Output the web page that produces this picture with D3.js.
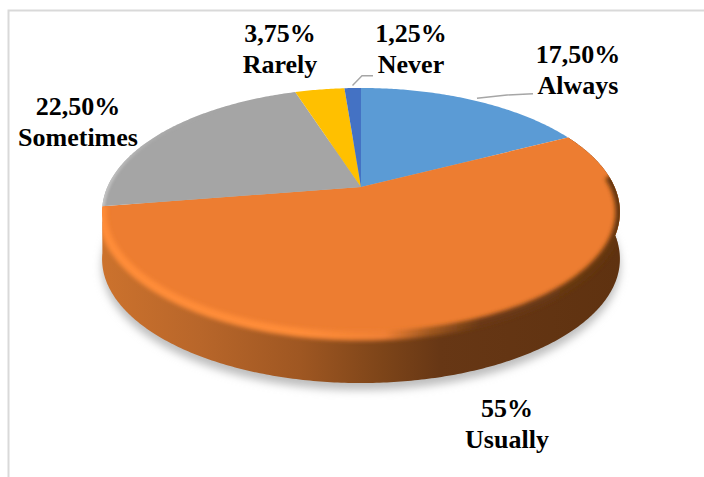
<!DOCTYPE html>
<html>
<head>
<meta charset="utf-8">
<script src="https://cdn.jsdelivr.net/npm/d3@7/dist/d3.min.js"></script>
<style>
html,body{margin:0;padding:0;background:#fff;overflow:hidden}
svg{display:block}
text{font-family:"Liberation Serif",serif;font-weight:bold;font-size:26px;fill:#000;text-anchor:middle}
</style>
</head>
<body>
<svg id="c" width="704" height="477"></svg>
<script>
const categories = ["Always","Usually","Sometimes","Rarely","Never"];
const values = [17.5,55,22.5,3.75,1.25];
const valueLabels = ["17,50%","55%","22,50%","3,75%","1,25%"];
const colors = ["#5B9BD5","#ED7D31","#A5A5A5","#FFC000","#4472C4"];
const labelX = [578,507,78,280,411];
const labelY = [63,417,115,42,42];

const W=704,H=477, cx=361, cy=187, a=253.6, b=119, k=-0.2016, depth=47;
const svg=d3.select("#c");
const defs=svg.append("defs");

function proj(theta,r=1,dy=0){
  const u=r*Math.sin(theta), v=-r*Math.cos(theta), d=1+k*v;
  return [cx+a*u/d, cy+b*v/d+dy];
}
const line=d3.line();
function arcPts(t0,t1,dy=0){
  const n=Math.max(4,Math.ceil(Math.abs(t1-t0)*90));
  return d3.range(n+1).map(i=>proj(t0+(t1-t0)*i/n,1,dy));
}
const pie=d3.pie().sort(null).value(d=>d)(values);
const TAU=Math.PI*2;

function grad(id,stops){
  const g=defs.append("linearGradient").attr("id",id)
    .attr("gradientUnits","userSpaceOnUse").attr("x1",101).attr("x2",620).attr("y1",0).attr("y2",0);
  stops.forEach(s=>g.append("stop").attr("offset",(s[0]-101)/519).attr("stop-color",s[1]).attr("stop-opacity",s[2]===undefined?1:s[2]));
}
grad("wall",[[101,"#cc722d"],[200,"#b8662a"],[300,"#9f5722"],[380,"#7e4519"],[440,"#673715"],[620,"#5f3210"]]);
grad("bevel",[[101,"#ff8c38"],[300,"#ff8c38"],[385,"#f08034"],[430,"#a0581f"],[480,"#6a3915"],[620,"#64360f"]]);
grad("grayEdge",[[101,"#c4c4c4"],[150,"#b4b4b4",0.5],[220,"#a5a5a5",0]]);
function blur(id,s){
  defs.append("filter").attr("id",id).attr("filterUnits","userSpaceOnUse")
    .attr("x",0).attr("y",0).attr("width",W).attr("height",H)
    .append("feGaussianBlur").attr("stdDeviation",s);
}
blur("sh",4.5); blur("bv",2.2); blur("bv2",1.2);

svg.append("path").attr("d","M704,10.5H8.5V477").attr("fill","none").attr("stroke","#d9d9d9").attr("stroke-width",2);

svg.append("path").attr("d",line(arcPts(0,TAU,depth+7))+"Z").attr("fill","#bdbdbd").attr("filter","url(#sh)");

const usually=pie[1];
const wallPts=arcPts(usually.startAngle,usually.endAngle).concat(arcPts(usually.endAngle,usually.startAngle,depth));
svg.append("path").attr("d",line(wallPts)+"Z").attr("fill","url(#wall)");

function sliceD(s){return line([proj(0,0)].concat(arcPts(s.startAngle,s.endAngle)))+"Z";}
svg.selectAll("path.slice").data(pie).enter().append("path").attr("class","slice")
  .attr("d",sliceD).attr("fill",(d,i)=>colors[i]);

const clip=defs.append("clipPath").attr("id","silh");
clip.append("path").attr("d",line(wallPts)+"Z");
clip.append("path").attr("d",sliceD(usually));
const bevelG=svg.append("g").attr("clip-path","url(#silh)");
bevelG.append("path").attr("d",line(arcPts(usually.startAngle+0.38,usually.endAngle,0)))
  .attr("fill","none").attr("stroke","url(#bevel)").attr("stroke-width",9).attr("filter","url(#bv)");
const grayClip=defs.append("clipPath").attr("id","grayC");
grayClip.append("path").attr("d",sliceD(pie[2]));
svg.append("g").attr("clip-path","url(#grayC)").append("path")
  .attr("d",line(arcPts(pie[2].startAngle,pie[2].endAngle)))
  .attr("fill","none").attr("stroke","url(#grayEdge)").attr("stroke-width",5).attr("filter","url(#bv2)");

function leader(i,mx,my,ex,ey){
  const s=pie[i], p=proj((s.startAngle+s.endAngle)/2,1.03);
  svg.append("path").attr("d",d3.line()([p,[mx,my],[ex,ey]]))
    .attr("fill","none").attr("stroke","#a6a6a6").attr("stroke-width",1.4);
}
leader(0,507,95,533,93.7);
leader(4,362,75.7,373,75.7);

const lab=svg.selectAll("g.lab").data(categories).enter().append("g").attr("class","lab");
lab.append("text").attr("x",(d,i)=>labelX[i]).attr("y",(d,i)=>labelY[i]).text((d,i)=>valueLabels[i]);
lab.append("text").attr("x",(d,i)=>labelX[i]).attr("y",(d,i)=>labelY[i]+30.5).text(d=>d);
</script>
</body>
</html>
